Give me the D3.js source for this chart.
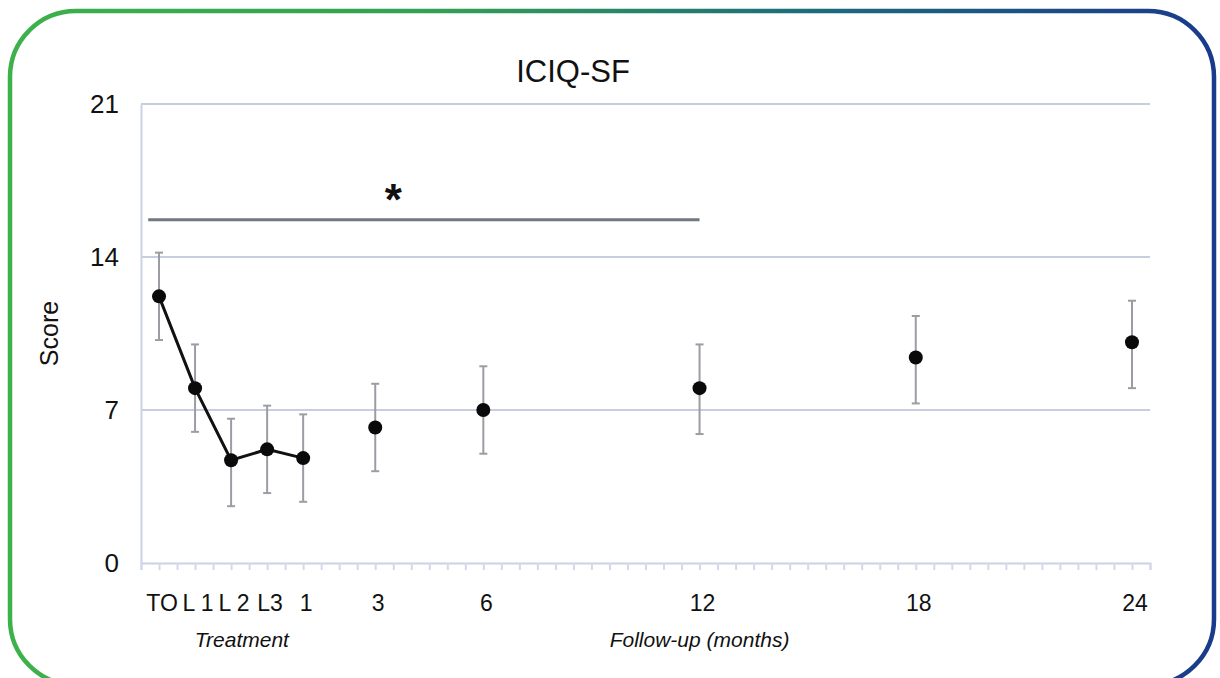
<!DOCTYPE html>
<html>
<head>
<meta charset="utf-8">
<script src="https://cdn.jsdelivr.net/npm/d3@7"></script>
<style>
  body { margin: 0; background: #fff; }
  svg text { font-family: "Liberation Sans Narrow", "Liberation Sans", Arial, sans-serif; fill: #111; }
</style>
</head>
<body>
<div id="chart"></div>
<script>
// time points (position on a half-month grid) and labels
var labels    = ["TO", "L 1", "L 2", "L3", "1", "3", "6", "12", "18", "24"];
var slots     = [0, 1, 2, 3, 4, 6, 9, 15, 21, 27];
var means     = [12.2, 8.0, 4.7, 5.2, 4.8, 6.2, 7.0, 8.0, 9.4, 10.1];
var lower     = [10.2, 6.0, 2.6, 3.2, 2.8, 4.2, 5.0, 5.9, 7.3, 8.0];
var upper     = [14.2, 10.0, 6.6, 7.2, 6.8, 8.2, 9.0, 10.0, 11.3, 12.0];
var yTicks    = [0, 7, 14, 21];
var treatCount = 5; // points joined by a line

var W = 1220, H = 678;
var margin = {top: 104, right: 70, bottom: 115, left: 141};
var width  = W - margin.left - margin.right;
var height = H - margin.top - margin.bottom;

var svg = d3.select("#chart").append("svg")
    .attr("width", W)
    .attr("height", H);

// gradient frame
var grad = svg.append("defs").append("linearGradient")
    .attr("id", "frameGrad")
    .attr("x1", "0%").attr("x2", "100%").attr("y1", "0%").attr("y2", "0%");
grad.append("stop").attr("offset", "0%").attr("stop-color", "#3db14a");
grad.append("stop").attr("offset", "35%").attr("stop-color", "#33a153");
grad.append("stop").attr("offset", "65%").attr("stop-color", "#1d6e7a");
grad.append("stop").attr("offset", "100%").attr("stop-color", "#1a3a8c");

svg.append("rect")
    .attr("x", 10).attr("y", 11)
    .attr("width", 1204).attr("height", 674)
    .attr("rx", 66).attr("ry", 66)
    .attr("fill", "none")
    .attr("stroke", "url(#frameGrad)")
    .attr("stroke-width", 4.5);

var g = svg.append("g")
    .attr("transform", "translate(" + margin.left + "," + margin.top + ")");

var x = d3.scaleLinear().domain([-0.5, 27.5]).range([0, width]);
var y = d3.scaleLinear().domain([0, 21]).range([height, 0]);

// gridlines
g.selectAll("line.grid")
  .data(yTicks.filter(function(d){ return d > 0; }))
  .enter().append("line")
    .attr("class", "grid")
    .attr("x1", 0).attr("x2", width)
    .attr("y1", function(d){ return y(d); })
    .attr("y2", function(d){ return y(d); })
    .attr("stroke", "#c9cde0")
    .attr("stroke-width", 2);

// y axis
var yAxis = g.append("g")
    .call(d3.axisLeft(y).tickValues(yTicks).tickSize(0).tickPadding(22));
yAxis.select(".domain").attr("stroke", "#c9d2e6").attr("stroke-width", 2);
yAxis.selectAll("text").style("font-size", "26px").attr("fill", "#111");

// x axis: minor ticks every half slot
var minor = d3.range(-0.5, 27.51, 0.5);
var xAxis = g.append("g")
    .attr("transform", "translate(0," + height + ")")
    .call(d3.axisBottom(x).tickValues(minor).tickSize(7).tickFormat(""));
xAxis.select(".domain").attr("stroke", "#c9d2e6").attr("stroke-width", 2);
xAxis.selectAll(".tick line").attr("stroke", "#d3d9ea").attr("stroke-width", 2);

// x labels
g.selectAll("text.xlab")
  .data(labels)
  .enter().append("text")
    .attr("class", "xlab")
    .attr("x", function(d, i){ return x(slots[i]) + 3; })
    .attr("y", height + 48)
    .attr("text-anchor", "middle")
    .style("font-size", "23px")
    .text(function(d){ return d; });

g.append("text")
    .attr("x", x(2.3)).attr("y", height + 84)
    .attr("text-anchor", "middle")
    .style("font-size", "21px").style("font-style", "italic")
    .text("Treatment");

g.append("text")
    .attr("x", x(15)).attr("y", height + 84)
    .attr("text-anchor", "middle")
    .style("font-size", "21px").style("font-style", "italic")
    .text("Follow-up (months)");

// y label
svg.append("text")
    .attr("transform", "translate(58," + (margin.top + y(10.5)) + ") rotate(-90)")
    .attr("text-anchor", "middle")
    .style("font-size", "25px")
    .text("Score");

// title
svg.append("text")
    .attr("x", 573).attr("y", 82)
    .attr("text-anchor", "middle")
    .style("font-size", "31px")
    .text("ICIQ-SF");

// significance bar
g.append("line")
    .attr("x1", x(-0.3)).attr("x2", x(15))
    .attr("y1", y(15.7)).attr("y2", y(15.7))
    .attr("stroke", "#707884")
    .attr("stroke-width", 3);
g.append("text")
    .attr("x", x(6.5)).attr("y", y(15.7) - 5)
    .attr("text-anchor", "middle")
    .style("font-size", "44px").style("font-weight", "bold")
    .text("*");

var data = labels.map(function(d, i){
  return {label: d, slot: slots[i], mean: means[i], lo: lower[i], hi: upper[i]};
});

// error bars
g.selectAll("line.err")
  .data(data)
  .enter().append("line")
    .attr("class", "err")
    .attr("x1", function(d){ return x(d.slot); })
    .attr("x2", function(d){ return x(d.slot); })
    .attr("y1", function(d){ return y(d.lo); })
    .attr("y2", function(d){ return y(d.hi); })
    .attr("stroke", "#9a9da3")
    .attr("stroke-width", 2);

["lo", "hi"].forEach(function(k){
  g.selectAll("line.cap" + k)
    .data(data)
    .enter().append("line")
      .attr("x1", function(d){ return x(d.slot) - 4; })
      .attr("x2", function(d){ return x(d.slot) + 4; })
      .attr("y1", function(d){ return y(d[k]); })
      .attr("y2", function(d){ return y(d[k]); })
      .attr("stroke", "#9a9da3")
      .attr("stroke-width", 2);
});

// treatment line
g.append("path")
    .datum(data.slice(0, treatCount))
    .attr("fill", "none")
    .attr("stroke", "#111")
    .attr("stroke-width", 3)
    .attr("d", d3.line()
      .x(function(d){ return x(d.slot); })
      .y(function(d){ return y(d.mean); }));

// points
g.selectAll("circle.pt")
  .data(data)
  .enter().append("circle")
    .attr("class", "pt")
    .attr("cx", function(d){ return x(d.slot); })
    .attr("cy", function(d){ return y(d.mean); })
    .attr("r", 7)
    .attr("fill", "#0a0a0a");
</script>
</body>
</html>
